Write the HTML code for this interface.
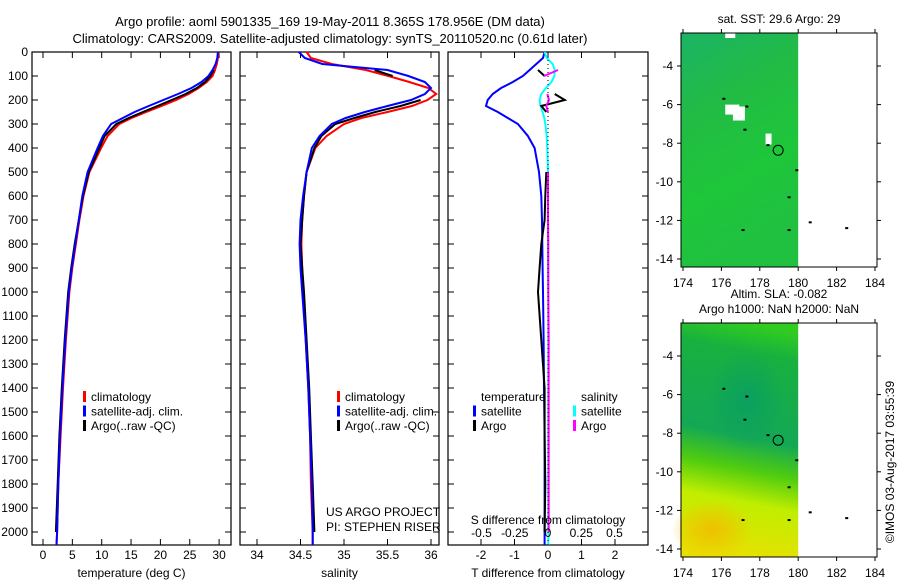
<!DOCTYPE html>
<html><head><meta charset="utf-8"><style>
body{margin:0;background:#fff}
svg{display:block;font-family:"Liberation Sans",sans-serif;font-size:12px}
</style></head><body>
<svg id="c" width="900" height="580" viewBox="0 0 900 580">
<defs>
<linearGradient id="sstg" x1="0" y1="0" x2="0.3" y2="1">
<stop offset="0" stop-color="#1bb466"/><stop offset="0.35" stop-color="#22bb45"/><stop offset="0.7" stop-color="#1ec63a"/><stop offset="1" stop-color="#20c040"/></linearGradient>
<linearGradient id="slag" x1="0.55" y1="0" x2="0.45" y2="1">
<stop offset="0" stop-color="#30cc20"/><stop offset="0.12" stop-color="#18b040"/><stop offset="0.48" stop-color="#14a855"/><stop offset="0.62" stop-color="#50cc10"/><stop offset="0.76" stop-color="#c0ee00"/><stop offset="1" stop-color="#e8e000"/></linearGradient>
<radialGradient id="orng" cx="0.5" cy="0.5" r="0.5"><stop offset="0" stop-color="#f0c000"/><stop offset="1" stop-color="#f0c000" stop-opacity="0"/></radialGradient>
<radialGradient id="teal" cx="0.5" cy="0.5" r="0.5"><stop offset="0" stop-color="#0aa060"/><stop offset="1" stop-color="#0aa060" stop-opacity="0"/></radialGradient>
</defs>
<text x="330" y="26" text-anchor="middle" font-size="13">Argo profile: aoml 5901335_169 19-May-2011 8.365S 178.956E (DM data)</text>
<text x="330" y="43" text-anchor="middle" font-size="13">Climatology: CARS2009. Satellite-adjusted climatology: synTS_20110520.nc (0.61d later)</text>
<g id="g"></g>
</svg>
<script>
// ---- data ----
const depthTicks=[0,100,200,300,400,500,600,700,800,900,1000,1100,1200,1300,1400,1500,1600,1700,1800,1900,2000];
const tempTicks=[0,5,10,15,20,25,30];
const salTicks=[34,34.5,35,35.5,36];
const salTickLabels=["34","34.5","35","35.5","36"];
const tdTicks=[-2,-1,0,1,2];
const sdTicks=[-0.5,-0.25,0,0.25,0.5];
const sdTickLabels=["-0.5","-0.25","0","0.25","0.5"];
const depths=[0,25,50,75,100,125,150,175,200,225,250,275,300,350,400,500,600,700,800,900,1000,1200,1400,1600,1800,2000,2054];
const tempClim=[29.9,29.8,29.6,29.3,28.9,27.9,26.5,24.8,22.7,20.2,17.6,15.1,13.0,11.0,9.9,7.9,6.9,6.2,5.6,5.0,4.5,3.9,3.4,3.0,2.6,2.4,2.3];
const tempSat=[29.8,29.7,29.4,28.9,28.2,27.0,25.3,23.0,20.5,18.0,15.6,13.6,11.6,10.2,9.3,7.6,6.7,6.1,5.5,4.9,4.4,3.8,3.3,2.9,2.6,2.4,2.3];
const tempArgo=[null,null,null,29.1,28.5,27.6,26.2,24.3,21.9,19.5,17.0,14.6,12.5,10.5,9.6,7.8,6.8,6.1,5.4,4.8,4.3,3.7,3.2,2.8,2.5,2.2,null];
const salClim=[34.57,34.62,34.86,35.25,35.51,35.75,35.97,36.06,35.96,35.78,35.5,35.2,35.0,34.8,34.67,34.57,34.54,34.52,34.51,34.52,34.53,34.56,34.59,34.61,34.62,34.64,34.64];
const salSat=[34.48,34.55,34.75,35.5,35.74,35.93,36.0,35.93,35.77,35.5,35.24,35.02,34.86,34.72,34.63,34.57,34.53,34.5,34.49,34.5,34.52,34.56,34.59,34.61,34.63,34.64,34.64];
const salArgo=[null,null,null,35.35,35.56,null,null,null,35.88,35.65,35.36,35.12,34.9,34.74,34.66,34.57,34.54,34.52,34.5,34.52,34.54,34.57,34.6,34.62,34.64,34.66,null];
const tdiffSat=[-0.1,-0.15,-0.35,-0.55,-0.75,-1.05,-1.4,-1.65,-1.8,-1.85,-1.5,-1.2,-0.9,-0.6,-0.4,-0.27,-0.2,-0.18,-0.17,-0.16,-0.15,-0.13,-0.12,-0.1,-0.1,-0.1,-0.1];
const sdiffSat=[-0.1,-0.04,0.14,0.2,0.19,0.1,-0.06,-0.2,-0.25,-0.22,-0.16,-0.11,-0.08,-0.04,-0.02,0.0,0.0,0.0,0.0,0.0,0.01,0.01,0.01,0.01,0.01,0.01,0.01];
const tdiffArgo=[null,null,null,-0.3,-0.1,null,null,0.2,0.5,-0.2,-0.05,null,-0.1,null,null,-0.05,-0.08,-0.1,-0.2,-0.25,-0.3,-0.2,-0.1,-0.1,-0.08,-0.1,null];
const sdiffArgo=[null,null,null,0.3,-0.12,null,null,-0.02,0.03,-0.05,0.0,null,-0.02,null,null,0.0,0.0,0.0,0.01,0.01,0.01,0.02,0.02,0.02,0.02,0.02,null];
const lonTicks=[174,176,178,180,182,184];
const latTicks=[-4,-6,-8,-10,-12,-14];
const argoLon=178.956, argoLat=-8.365;

const NS='http://www.w3.org/2000/svg';
const g=document.getElementById('g');
function el(tag,attrs,parent){const e=document.createElementNS(NS,tag);for(const k in attrs)e.setAttribute(k,attrs[k]);(parent||g).appendChild(e);return e;}
function txt(x,y,s,anchor,parent){const t=el('text',{x:x,y:y,'text-anchor':anchor||'start'},parent);t.textContent=s;return t;}
const yTop=52,bot=545;
const yD=d=>yTop+d*0.24;

function panel(name,x0,x1,xScale,ticks,labels,xTitle,series,showDepth){
  const pg=el('g',{});
  
  
  el('rect',{x:x0,y:yTop,width:x1-x0,height:bot-yTop,fill:'none',stroke:'#000','stroke-width':1.2},pg);
  ticks.forEach((v,i)=>{const x=xScale(v);
    el('line',{x1:x,x2:x,y1:bot,y2:bot-6,stroke:'#000'},pg);
    el('line',{x1:x,x2:x,y1:yTop,y2:yTop+6,stroke:'#000'},pg);
    const t=txt(x,559,labels[i],'middle',pg);});
  depthTicks.forEach(d=>{const y=yD(d);
    el('line',{x1:x0,x2:x0+6,y1:y,y2:y,stroke:'#000'},pg);
    el('line',{x1:x1,x2:x1-6,y1:y,y2:y,stroke:'#000'},pg);
    if(showDepth){const t=txt(28,y+4,String(d),'end',pg);}});
  const xt=txt((x0+x1)/2,577,xTitle,'middle',pg);
  
  series.forEach(s=>{
    let segs=[],cur=[];
    depths.forEach((d,i)=>{const v=s.vals[i];if(v===null){if(cur.length)segs.push(cur);cur=[];}else cur.push(Math.max(x0,Math.min(x1,xScale(v))).toFixed(1)+','+yD(d).toFixed(1));});
    if(cur.length)segs.push(cur);
    segs.forEach(c=>{if(c.length<2)return;const p=el('polyline',{points:c.join(' '),fill:'none',stroke:s.color,'stroke-width':2},pg);
      });
  });
  return pg;
}
const xT=v=>43+v*5.87;
const xS=v=>257+(v-34)*87;
const xTd=v=>548+v*33.5;
const xSd=v=>548+v*133;
panel('temperature-panel',32,231,xT,tempTicks,tempTicks.map(String),'temperature (deg C)',
 [{vals:tempClim,color:'#f00',name:'temp-climatology-line'},{vals:tempArgo,color:'#000',name:'temp-argo-line'},{vals:tempSat,color:'#00f',name:'temp-satellite-line'}],true);
panel('salinity-panel',240,439,xS,salTicks,salTickLabels,'salinity',
 [{vals:salClim,color:'#f00',name:'sal-climatology-line'},{vals:salArgo,color:'#000',name:'sal-argo-line'},{vals:salSat,color:'#00f',name:'sal-satellite-line'}],false);
const p3=panel('difference-panel',448,648,xTd,tdTicks,tdTicks.map(String),'T difference from climatology',
 [{vals:tdiffSat,color:'#00f',name:'tdiff-satellite-line'},{vals:sdiffSat,color:'#0ff',name:'sdiff-satellite-line'},{vals:tdiffArgo,color:'#000',name:'tdiff-argo-line'},{vals:sdiffArgo,color:'#f0f',name:'sdiff-argo-line'}],false);
el('line',{x1:xTd(0),x2:xTd(0),y1:yTop,y2:bot,stroke:'#000','stroke-dasharray':'1,3'},p3);
sdTicks.forEach((v,i)=>{const t=txt(xSd(v),537,sdTickLabels[i],'middle',p3);});
{const t=txt(548,524,'S difference from climatology','middle',p3);}

function legend(x,y,items,name){
  const lg=el('g',{});
  items.forEach((it,i)=>{const yy=y+i*14.5;
    if(it.c)el('rect',{x:x,y:yy-10,width:3,height:11,fill:it.c},lg);
    txt(x+8,yy,it.t,'start',lg);});
}
legend(83,401,[{c:'#f00',t:'climatology'},{c:'#00f',t:'satellite-adj. clim.'},{c:'#000',t:'Argo(..raw -QC)'}],'temp-legend');
legend(337,401,[{c:'#f00',t:'climatology'},{c:'#00f',t:'satellite-adj. clim.'},{c:'#000',t:'Argo(..raw -QC)'}],'sal-legend');
legend(473,401,[{c:null,t:'temperature'},{c:'#00f',t:'satellite'},{c:'#000',t:'Argo'}],'tdiff-legend');
legend(573,401,[{c:null,t:'salinity'},{c:'#0ff',t:'satellite'},{c:'#f0f',t:'Argo'}],'sdiff-legend');
const pl1=txt(326,516,'US ARGO PROJECT');


const pl2=txt(326,531,'PI: STEPHEN RISER');



function map(name,y0,fill,titles,extra){
  const mg=el('g',{});
  const x0=681,x1=877,y1=y0+234;
  const lx=v=>683+(v-174)*19.2, ly=v=>y0+33+(-4-v)*19.3;
  el('rect',{x:x0,y:y0,width:lx(180)-x0,height:y1-y0,fill:fill},mg);
  if(extra)extra(mg,lx,ly);
  el('rect',{x:x0,y:y0,width:x1-x0,height:y1-y0,fill:'none',stroke:'#000'},mg);
  lonTicks.forEach(v=>{const x=lx(v);el('line',{x1:x,x2:x,y1:y1,y2:y1+4,stroke:'#000'},mg);el('line',{x1:x,x2:x,y1:y0,y2:y0-4,stroke:'#000'},mg);
    const t=txt(x,y1+20,String(v),'middle',mg);});
  latTicks.forEach(v=>{const y=ly(v);el('line',{x1:x0,x2:x0-4,y1:y,y2:y,stroke:'#000'},mg);el('line',{x1:x1,x2:x1+4,y1:y,y2:y,stroke:'#000'},mg);
    const t=txt(x0-8,y+4,String(v),'end',mg);});
  const c=el('circle',{cx:lx(argoLon),cy:ly(argoLat),r:5,fill:'none',stroke:'#000'},mg);
  
  titles.forEach((s,i)=>{const t=txt(779,y0-10+i*15-(titles.length-1)*15,s,'middle',mg);});
  [[176.1,-5.7],[177.3,-6.1],[177.2,-7.3],[178.4,-8.1],[179.9,-9.4],[179.5,-10.8],[177.1,-12.5],[179.5,-12.5],[180.6,-12.1],[182.5,-12.4]].forEach(p=>el('rect',{x:lx(p[0])-1,y:ly(p[1])-1,width:3,height:2,fill:'#000'},mg));
}
map('sst-map',33,'url(#sstg)',['sat. SST: 29.6 Argo: 29'],(mg,lx,ly)=>{
  el('rect',{x:lx(176.2),y:ly(-6),width:14,height:10,fill:'#fff'},mg);
  el('rect',{x:lx(176.6),y:ly(-6.1),width:12,height:14,fill:'#fff'},mg);
  el('rect',{x:lx(178.3),y:ly(-7.5),width:6,height:11,fill:'#fff'},mg);
  el('rect',{x:lx(176.2),y:33,width:10,height:5,fill:'#fff'},mg);
});
map('sla-map',323,'url(#slag)',['Altim. SLA: -0.082','Argo h1000: NaN h2000: NaN'],(mg,lx,ly)=>{
  el('ellipse',{cx:lx(175.5),cy:ly(-13),rx:40,ry:30,fill:'url(#orng)'},mg);
  el('ellipse',{cx:lx(177.3),cy:ly(-6.3),rx:40,ry:50,fill:'url(#teal)'},mg);
});
const cp=txt(0,0,'©IMOS 03-Aug-2017 03:55:39','middle');
cp.setAttribute('transform','translate(894,462) rotate(-90)');


</script>
</body></html>
